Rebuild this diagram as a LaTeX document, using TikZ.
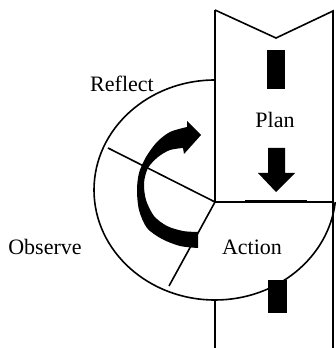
\documentclass[tikz,border=0pt]{standalone}
\usepackage{fontspec}
\setmainfont{Liberation Serif}
\usetikzlibrary{positioning}

\begin{document}
\begin{tikzpicture}[x=1pt, y=1pt,
    stage/.style={font=\fontsize{22}{26}\selectfont, inner sep=0pt},
    edge/.style={line width=1.6pt, line join=miter},
    blk/.style={fill=black}]
        \useasboundingbox (0,0) rectangle (336,348);

        % Key points
        \coordinate (hub) at (215,146);
        \coordinate (bandTL) at (215,338);
        \coordinate (notch) at (276,310);
        \coordinate (bandTR) at (333,337);
        \coordinate (bandR) at (333,146);
        \coordinate (bandBR) at (333,0);
        \coordinate (ringTop) at (215,268);
        \coordinate (ringBot) at (215,48);
        \coordinate (bandBL) at (215,0);
        \coordinate (spokeA) at (108,200);
        \coordinate (spokeB) at (169,62);

        % Plan band
        \draw[edge] (bandTL) -- (notch) -- (bandTR) -- (bandBR);
        \draw[edge] (bandTL) -- (hub) -- (bandR);
        \draw[edge] (ringBot) -- (bandBL);
        \draw[line width=3pt] (245,146) -- (307,146);

        % Cycle ring
        \draw[edge] (ringTop) arc[start angle=90, end angle=353.7, x radius=121, y radius=110];
        \draw[edge] (hub) -- (spokeA);
        \draw[edge] (hub) -- (spokeB);

        % Plan marks
        \fill[blk] (267,298) rectangle (285,259);
        \fill[blk] (268,200) -- (285,200) -- (285,175) -- (295,175) -- (276,156)
            -- (258,175) -- (268,175) -- cycle;
        \fill[blk] (268,68) rectangle (287,35);

        % Turning arrow
        \fill[blk] (201,213) -- (187,227) -- (187,221)
            -- plot[smooth] coordinates {(187,221) (170,216) (157,206) (146,191) (139,175)
                (137,158) (139,138) (147,120) (162,109) (180,102) (198,100)}
            -- (198,116)
            -- plot[smooth] coordinates {(198,116) (183,117) (167,122) (154,132) (146,148)
                (144,165) (148,180) (158,191) (170,198) (183,200)}
            -- (184,194) -- cycle;

        % Labels
        \node[stage] (reflect) at (122,264) {Reflect};
        \node[stage] (plan) at (275,228) {Plan};
        \node[stage] (observe) at (45,101) {Observe};
        \node[stage] (action) at (252,101) {Action};
    \end{tikzpicture}
\end{document}
